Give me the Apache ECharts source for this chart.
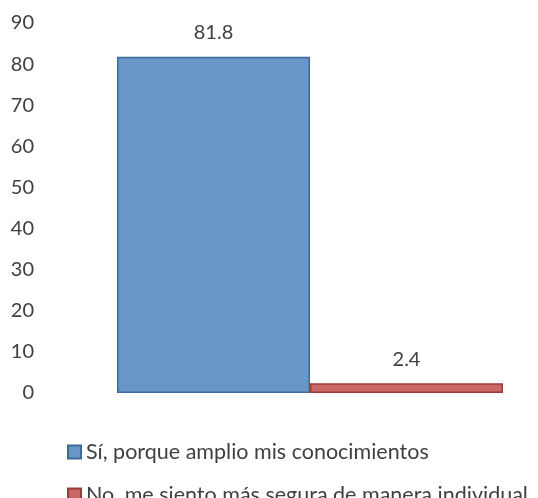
<!DOCTYPE html>
<html>
<head>
<meta charset="utf-8">
<script src="https://cdn.jsdelivr.net/npm/echarts@6/dist/echarts.min.js"></script>
<style>html,body{margin:0;padding:0;background:#fff;}#c{width:538px;height:498px;}</style>
</head>
<body>
<div id="c"></div>
<script>
const categories = [''];
const seriesNames = ['Sí, porque amplio mis conocimientos', 'No, me siento más segura de manera individual'];
const siValues = [81.8];
const noValues = [2.4];
const yTicks = { min: 0, max: 90, interval: 10 };

const FONT = 'Lato';
const chart = echarts.init(document.getElementById('c'));
const labelStyle = { show: true, position: 'top', distance: 14, color: '#404040', fontSize: 20, fontFamily: FONT };
const legendBase = {
  orient: 'horizontal', left: 62, itemWidth: 13, itemHeight: 13, icon: 'rect',
  textStyle: { color: '#404040', fontSize: 21.5, fontFamily: FONT, lineHeight: 22 }
};
chart.setOption({
  animation: false,
  grid: { left: 82, right: 0, top: 23, bottom: 105, containLabel: false },
  xAxis: {
    type: 'category', data: categories,
    axisLine: { show: false }, axisTick: { show: false }, axisLabel: { show: false }
  },
  yAxis: {
    type: 'value', min: yTicks.min, max: yTicks.max, interval: yTicks.interval,
    axisLine: { show: false }, axisTick: { show: false }, splitLine: { show: false },
    axisLabel: { color: '#404040', fontSize: 20, fontFamily: FONT, margin: 48 }
  },
  legend: [
    Object.assign({}, legendBase, { top: 436, data: [seriesNames[0]] }),
    Object.assign({}, legendBase, { top: 479, width: 1000, data: [seriesNames[1]] })
  ],
  series: [
    { name: seriesNames[0], type: 'bar', data: siValues, barWidth: 193, barGap: '0%',
      itemStyle: { color: '#6a95c7', borderColor: '#3f6a9e', borderWidth: 1.5 }, label: labelStyle },
    { name: seriesNames[1], type: 'bar', data: noValues, barWidth: 193, barGap: '0%',
      itemStyle: { color: '#c96666', borderColor: '#9c3b3b', borderWidth: 1.5 }, label: labelStyle }
  ]
});
</script>
</body>
</html>
